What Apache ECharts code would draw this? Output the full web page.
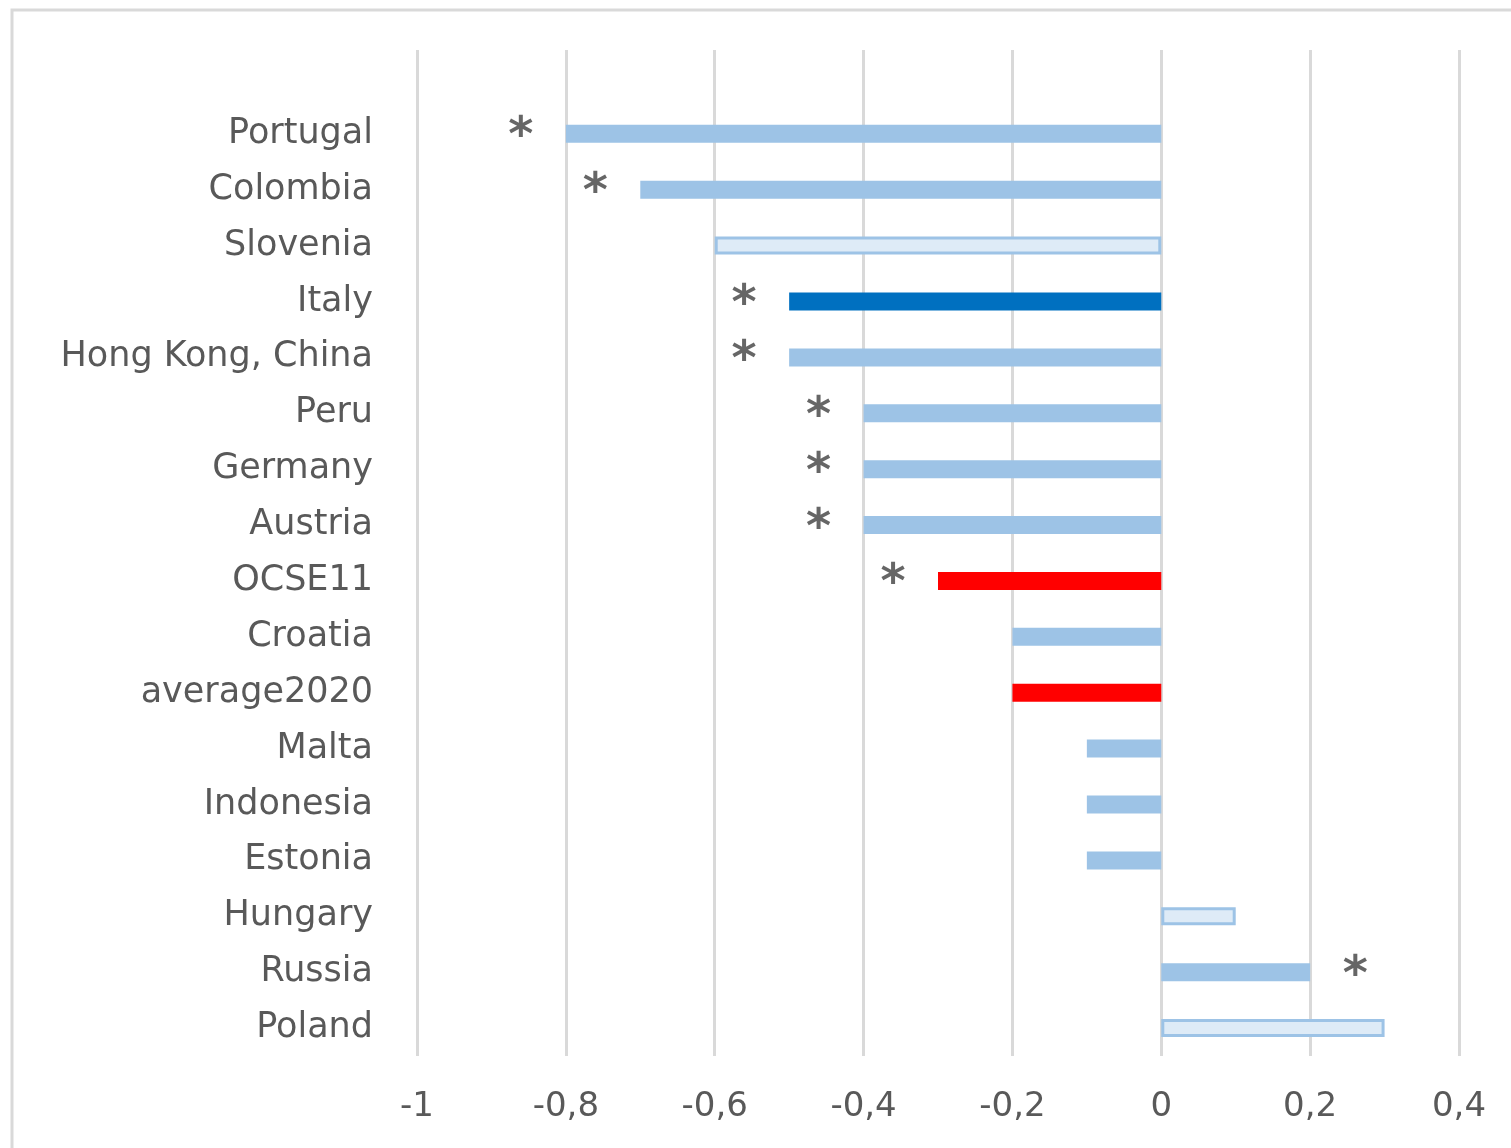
<!DOCTYPE html>
<html>
<head>
<meta charset="utf-8">
<script src="https://cdn.jsdelivr.net/npm/echarts@6/dist/echarts.min.js"></script>
<style>
html,body{margin:0;padding:0;background:#fff;}
#c{width:1511px;height:1148px;}
</style>
</head>
<body>
<div id="c"></div>
<script>
const categories = ['Portugal','Colombia','Slovenia','Italy','Hong Kong, China','Peru','Germany','Austria','OCSE11','Croatia','average2020','Malta','Indonesia','Estonia','Hungary','Russia','Poland'];
const values = [-0.8,-0.7,-0.6,-0.5,-0.5,-0.4,-0.4,-0.4,-0.3,-0.2,-0.2,-0.1,-0.1,-0.1,0.1,0.2,0.3];
const kinds = ['light','light','hollow','dark','light','light','light','light','red','light','red','light','light','light','hollow','light','hollow'];
const significant = [1,1,0,1,1,1,1,1,1,0,0,0,0,0,0,1,0];
const xTicks = {min:-1, max:0.4, interval:0.2};

const styles = {
  light: {color:'#9DC3E6'},
  dark: {color:'#0070C0'},
  red: {color:'#FF0000'},
  hollow: {color:'#DEEBF7', borderColor:'#9DC3E6', borderWidth:3}
};

const pad = ' ';
const yData = [pad].concat(categories);
const barData = [{value:null}].concat(values.map((v,i)=>({value:v, itemStyle:styles[kinds[i]]})));
const starData = [];
values.forEach((v,i)=>{
  if(significant[i]) starData.push({
    value:[v, categories[i]],
    label:{position: v<0 ? 'left' : 'right'}
  });
});

const chart = echarts.init(document.getElementById('c'));
chart.setOption({
  animation:false,
  backgroundColor:'#fff',
  graphic:[{type:'rect', shape:{x:12,y:10,width:1600,height:1300}, style:{fill:'none', stroke:'#D9D9D9', lineWidth:3}, silent:true, z:-1}],
  grid:{left:417, right:52, top:50, bottom:92},
  xAxis:{
    type:'value', min:xTicks.min, max:xTicks.max, interval:xTicks.interval,
    axisLine:{show:false}, axisTick:{show:false},
    splitLine:{lineStyle:{color:'#D9D9D9', width:3}},
    axisLabel:{fontFamily:'DejaVu Sans', fontSize:34, color:'#595959', margin:34,
      formatter:v=>String(Math.round(v*10)/10).replace('.',',')}
  },
  yAxis:{
    type:'category', inverse:true, data:yData,
    axisLine:{show:false}, axisTick:{show:false}, splitLine:{show:false},
    axisLabel:{fontFamily:'DejaVu Sans', fontSize:35, color:'#595959', margin:44, align:'right'}
  },
  series:[
    {type:'bar', data:barData, barWidth:18, z:2},
    {type:'scatter', data:starData, symbolSize:1, itemStyle:{color:'rgba(0,0,0,0)'}, z:3,
      label:{show:true, formatter:'*', fontSize:48, fontWeight:'bold', fontFamily:'DejaVu Sans', color:'#404040', distance:32, offset:[0,4]}}
  ]
});
</script>
</body>
</html>
